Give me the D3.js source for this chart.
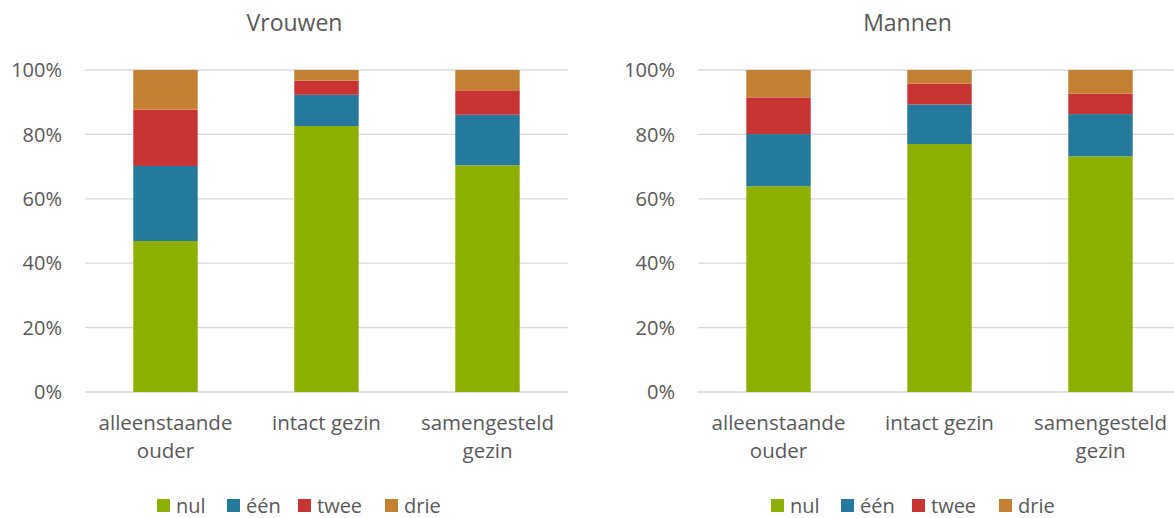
<!DOCTYPE html>
<html>
<head>
<meta charset="utf-8">
<script src="https://cdn.jsdelivr.net/npm/d3@7"></script>
<style>
  body { margin: 0; background: #fff; }
  svg text { font-family: "Open Sans", "Noto Sans", sans-serif; fill: #595959; }
</style>
</head>
<body>
<div id="chart"></div>
<script>
var width = 1174,
    height = 518;

var categories = [["alleenstaande", "ouder"], ["intact gezin"], ["samengesteld", "gezin"]];
var seriesNames = ["nul", "één", "twee", "drie"];
var colors = ["#8db000", "#25799c", "#c83434", "#c48032"];
var yTicks = [0, 0.2, 0.4, 0.6, 0.8, 1];

// values (share per category)
var vrouwenNul  = [0.469, 0.826, 0.704];
var vrouwenEen  = [0.233, 0.097, 0.157];
var vrouwenTwee = [0.175, 0.044, 0.076];
var vrouwenDrie = [0.123, 0.033, 0.063];

var mannenNul  = [0.639, 0.770, 0.732];
var mannenEen  = [0.162, 0.123, 0.131];
var mannenTwee = [0.114, 0.065, 0.064];
var mannenDrie = [0.085, 0.042, 0.073];

var panels = [
  { title: "Vrouwen", left: 85, series: [vrouwenNul, vrouwenEen, vrouwenTwee, vrouwenDrie], legendX: 157 },
  { title: "Mannen", left: 698, series: [mannenNul, mannenEen, mannenTwee, mannenDrie], legendX: 771 }
];

var svg = d3.select("#chart").append("svg")
    .attr("width", width)
    .attr("height", height);

var plotW = 483, plotTop = 70, plotBottom = 392;

panels.forEach(function(p) {
  var g = svg.append("g");

  var x = d3.scaleBand()
      .domain(d3.range(categories.length))
      .range([p.left, p.left + plotW])
      .paddingInner(0.6)
      .paddingOuter(0.3);

  var y = d3.scaleLinear()
      .domain([0, 1])
      .range([plotBottom, plotTop]);

  // gridlines
  g.selectAll("line.grid")
      .data(yTicks)
    .enter().append("line")
      .attr("x1", p.left)
      .attr("x2", p.left + plotW)
      .attr("y1", function(d) { return y(d); })
      .attr("y2", function(d) { return y(d); })
      .attr("stroke", "#d9d9d9")
      .attr("stroke-width", 1.3);

  // y labels
  g.selectAll("text.ytick")
      .data(yTicks)
    .enter().append("text")
      .attr("x", p.left - 23)
      .attr("y", function(d) { return y(d); })
      .attr("dy", "0.36em")
      .attr("text-anchor", "end")
      .style("font-size", "20px")
      .text(d3.format(".0%"));

  // stacked bars
  var rows = categories.map(function(c, i) {
    var r = { i: i };
    seriesNames.forEach(function(s, k) { r[s] = p.series[k][i]; });
    return r;
  });
  var stack = d3.stack().keys(seriesNames)(rows);

  g.selectAll("g.layer")
      .data(stack)
    .enter().append("g")
      .attr("fill", function(d, k) { return colors[k]; })
    .selectAll("rect")
      .data(function(d) { return d; })
    .enter().append("rect")
      .attr("x", function(d) { return x(d.data.i); })
      .attr("width", x.bandwidth())
      .attr("y", function(d) { return y(d[1]); })
      .attr("height", function(d) { return y(d[0]) - y(d[1]); });

  // category labels
  categories.forEach(function(lines, i) {
    var t = g.append("text")
        .attr("x", x(i) + x.bandwidth() / 2)
        .attr("y", 430)
        .attr("text-anchor", "middle")
        .style("font-size", "20.5px");
    lines.forEach(function(l, j) {
      t.append("tspan")
        .attr("x", x(i) + x.bandwidth() / 2)
        .attr("dy", j === 0 ? 0 : 28)
        .text(l);
    });
  });

  // title
  g.append("text")
      .attr("x", p.left + plotW / 2 - 32)
      .attr("y", 31)
      .attr("text-anchor", "middle")
      .style("font-size", "23px")
      .text(p.title);

  // legend
  var offs = [0, 70, 141, 228];
  var lg = g.selectAll("g.leg")
      .data(seriesNames)
    .enter().append("g")
      .attr("transform", function(d, k) { return "translate(" + (p.legendX + offs[k]) + ",499)"; });
  lg.append("rect")
      .attr("width", 13)
      .attr("height", 13)
      .attr("fill", function(d, k) { return colors[k]; });
  lg.append("text")
      .attr("x", 19)
      .attr("y", 6.5)
      .attr("dy", "0.36em")
      .style("font-size", "20px")
      .text(function(d) { return d; });
});
</script>
</body>
</html>
